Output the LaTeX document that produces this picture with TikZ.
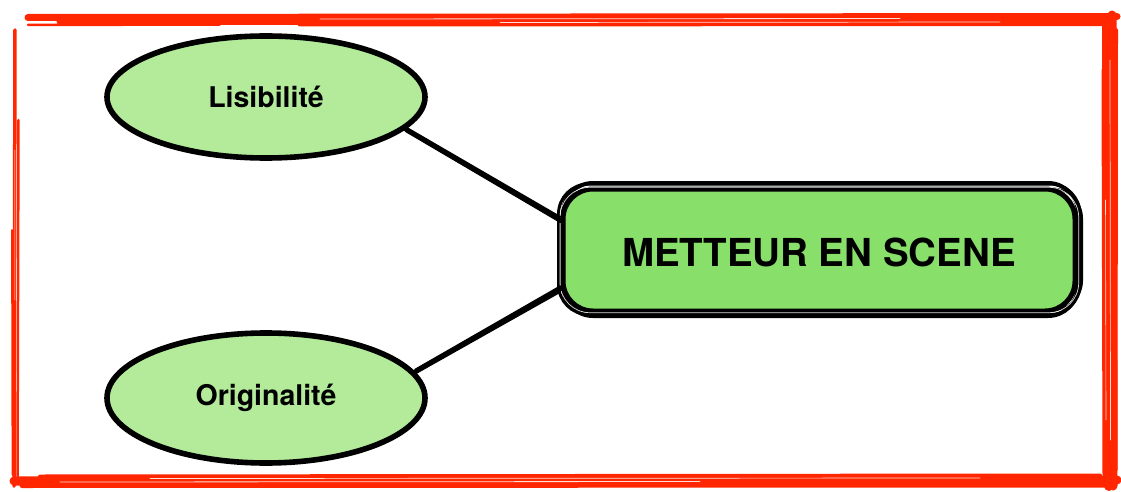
\documentclass[tikz,border=0pt]{standalone}
\usepackage{fontspec}
\setmainfont{TeX Gyre Heros}
\usetikzlibrary{shapes.geometric,calc}
\definecolor{frame}{RGB}{255,38,0}
\definecolor{ellfill}{RGB}{179,235,155}
\definecolor{boxfill}{RGB}{136,224,106}
\tikzset{
  ell/.style={ellipse, draw=black, line width=5.6pt, fill=ellfill,
    minimum width=318pt, minimum height=122pt, inner sep=0pt,
    font=\fontsize{28.5}{32}\selectfont\bfseries},
  mainbox/.style={rectangle, rounded corners=30pt, fill=boxfill, draw=black, line width=5pt,
    minimum width=512pt, minimum height=122pt, inner sep=0pt},
  sketch/.style={draw=black, line width=#1, rounded corners=30pt},
  conn/.style={draw=black, line width=#1, line cap=round},
  redline/.style={draw=frame, line width=#1, line cap=round},
  scratch/.style={draw=white, line width=#1, opacity=0.85, line cap=round}
}
\begin{document}
\begin{tikzpicture}[x=1pt,y=-1pt]
\useasboundingbox (0,0) rectangle (1121,492);
\fill[white] (0,0) rectangle (1121,492);

% red sketchy frame: top
\draw[redline=7pt] (28,17.5) -- (1117,16.5);
\draw[redline=7pt] (60,21.5) -- (1112,20.5);
\draw[redline=5pt] (300,24) -- (1108,23.5);
\draw[redline=2.5pt] (28,25) -- (220,24.5);
\draw[scratch=0.8pt] (320,19) -- (900,18.5);
\draw[scratch=0.7pt] (500,22.5) -- (1000,22);
% left
\draw[redline=3.5pt] (15,30) -- (14,486);
\draw[redline=2.5pt] (18.5,120) -- (17.5,482);
\draw[redline=1.8pt] (12,230) -- (12.5,475);
\draw[scratch=0.5pt] (15,150) -- (14.8,300);
% bottom
\draw[redline=9pt] (14,481) -- (1117,480);
\draw[redline=5pt] (22,485.5) -- (1112,485);
\draw[redline=4pt] (40,476.5) -- (1100,475.5);
\draw[scratch=0.8pt] (60,482) -- (700,481.5);
\draw[scratch=0.7pt] (150,478.5) -- (980,478);
% right
\draw[redline=10pt] (1107,18) -- (1109,486);
\draw[redline=9pt] (1112,15) -- (1113,486);
\draw[redline=5pt] (1104,70) -- (1105,480);
\draw[redline=4pt] (1116,30) -- (1115.5,470);
\draw[scratch=0.7pt] (1110,60) -- (1110.5,440);
\draw[scratch=0.6pt] (1105.5,200) -- (1106,420);

% nodes
\node[ell] (lis) at (266,97) {Lisibilité};
\node[ell, minimum height=130pt] (ori) at (266,398) {Originalité};
\node[mainbox] (mes) at (819,250) {};

% sketchy outline of main box
\draw[sketch=3pt] ($(mes.south west)+(-2,1)$) rectangle ($(mes.north east)+(2.5,-2.5)$);
\draw[sketch=2pt] ($(mes.south west)+(1,-3)$) rectangle ($(mes.north east)+(4.5,2)$);
\draw[sketch=4pt] ($(mes.south west)+(2.5,2.5)$) rectangle ($(mes.north east)+(0.5,-3.5)$);
\draw[scratch=0.7pt, rounded corners=30pt] ($(mes.south west)+(-0.5,-0.8)$) rectangle ($(mes.north east)+(1.2,0.8)$);
\node[font=\fontsize{38.5}{44}\selectfont\bfseries] (mestext) at ([yshift=-2pt]mes.center) {METTEUR EN SCENE};

% connectors
\draw[conn=4.4pt] (lis.-13) -- ([yshift=30pt]mes.west);
\draw[conn=1.6pt] ([yshift=2.2pt]lis.-13) -- ([yshift=33pt]mes.west);
\draw[conn=1.3pt] ([yshift=-2.2pt]lis.-13) -- ([yshift=27.5pt]mes.west);

\draw[conn=4.4pt] (ori.10) -- ([yshift=-39pt]mes.west);
\draw[conn=1.6pt] ([yshift=2.2pt]ori.10) -- ([yshift=-36pt]mes.west);
\draw[conn=1.3pt] ([yshift=-2.2pt]ori.10) -- ([yshift=-42pt]mes.west);
\end{tikzpicture}
\end{document}
